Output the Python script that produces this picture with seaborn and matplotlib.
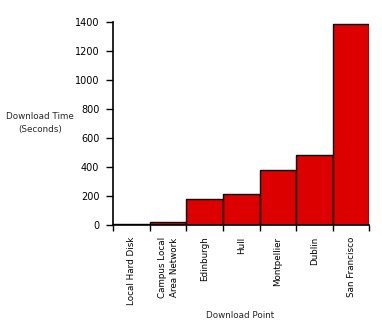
import matplotlib
matplotlib.use("Agg")
import matplotlib.pyplot as plt
import seaborn as sns
import pandas as pd
import numpy as np

categories = ["Local Hard Disk", "Campus Local\nArea Network", "Edinburgh", "Hull",
              "Montpellier", "Dublin", "San Francisco"]
download_time = [7, 20, 179, 214, 379, 483, 1386]
y_ticks = [0, 200, 400, 600, 800, 1000, 1200, 1400]

sns.set_style("white")
plt.rcParams['font.family'] = ['DejaVu Sans']

df = pd.DataFrame({"point": categories, "time": download_time})

fig = plt.figure(figsize=(3.82, 3.29), dpi=100)
ax = fig.add_axes([113.3/382, 1-225.3/329, 256/382, 203/329])
sns.barplot(data=df, x="point", y="time", color="#DD0000", saturation=1,
            width=1.0, edgecolor="black", linewidth=1.0, ax=ax)

ax.set_ylim(0, 1400)
ax.set_xlim(-0.5, len(categories) - 0.5)
ax.set_yticks(y_ticks)
ax.set_yticklabels([str(v) for v in y_ticks], fontsize=7, color='black')
ax.tick_params(axis='y', direction='out', length=5, width=1, color='black', pad=5, left=True)

# tick labels at bar centers, tick marks at bar boundaries
ax.set_xticks(np.arange(len(categories)))
ax.set_xticklabels(categories, rotation=90, fontsize=6.3, ha='center', va='top',
                   multialignment='center', color='black', linespacing=1.45)
ax.tick_params(axis='x', which='major', length=0, pad=8)
ax.set_xticks(np.arange(len(categories) + 1) - 0.5, minor=True)
ax.tick_params(axis='x', which='minor', direction='out', length=4, width=1, color='black', bottom=True)

for s in ["top", "right"]:
    ax.spines[s].set_visible(False)
for s in ["left", "bottom"]:
    ax.spines[s].set_color("black")
    ax.spines[s].set_linewidth(1.2)

ax.set_xlabel("")
ax.set_ylabel("")
fig.text(40/382, 1-123/329, "Download Time\n(Seconds)", ha='center', va='center',
         fontsize=6.3, multialignment='center', linespacing=1.5)
fig.text(240/382, 1-315/329, "Download Point", ha='center', va='center', fontsize=6.3)

fig.savefig("out.png", dpi=100)
